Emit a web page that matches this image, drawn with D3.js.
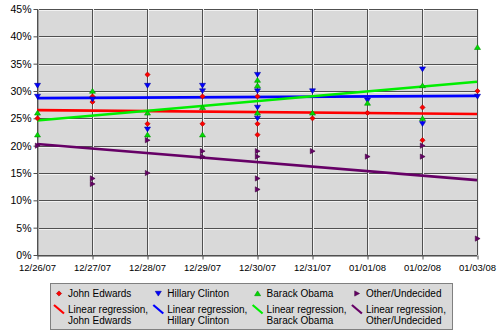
<!DOCTYPE html>
<html>
<head>
<meta charset="utf-8">
<script src="https://cdn.jsdelivr.net/npm/d3@7/dist/d3.min.js"></script>
<style>
  html, body { margin: 0; padding: 0; background: #fff; }
  svg { display: block; font-family: "Liberation Sans", Arial, sans-serif; }
</style>
</head>
<body>
<svg id="chart" width="500" height="335"></svg>
<script>
// Poll dates shown on the x axis
const dates = ["12/26/07", "12/27/07", "12/28/07", "12/29/07", "12/30/07",
               "12/31/07", "01/01/08", "01/02/08", "01/03/08"];

// Individual poll results: [date, percent]
const edwards = [["12/26/07", 25], ["12/27/07", 29], ["12/27/07", 28], ["12/28/07", 33], ["12/28/07", 24],
                 ["12/29/07", 29], ["12/29/07", 24], ["12/30/07", 29], ["12/30/07", 24], ["12/30/07", 22],
                 ["12/31/07", 25], ["01/01/08", 26], ["01/02/08", 27], ["01/02/08", 21], ["01/03/08", 30]];
const clinton = [["12/26/07", 31], ["12/26/07", 29], ["12/27/07", 28.5], ["12/28/07", 31], ["12/28/07", 23],
                 ["12/29/07", 31], ["12/29/07", 30], ["12/30/07", 33], ["12/30/07", 30], ["12/30/07", 27],
                 ["12/30/07", 25], ["12/31/07", 30], ["01/01/08", 28.3], ["01/02/08", 34], ["01/02/08", 24],
                 ["01/03/08", 29]];
const obama   = [["12/26/07", 26], ["12/26/07", 22], ["12/27/07", 30], ["12/28/07", 26], ["12/28/07", 22],
                 ["12/29/07", 27], ["12/29/07", 22], ["12/30/07", 32], ["12/30/07", 31], ["12/30/07", 26],
                 ["12/31/07", 26], ["01/01/08", 27.8], ["01/02/08", 31], ["01/02/08", 25], ["01/03/08", 38]];
const other   = [["12/26/07", 20], ["12/27/07", 14], ["12/27/07", 13], ["12/28/07", 21], ["12/28/07", 15],
                 ["12/29/07", 19], ["12/29/07", 18], ["12/30/07", 19], ["12/30/07", 18], ["12/30/07", 14],
                 ["12/30/07", 12], ["12/31/07", 19], ["01/01/08", 18], ["01/02/08", 20], ["01/02/08", 18],
                 ["01/03/08", 3]];

// Linear regression trend lines: value at first and last date
const edwardsTrend = [["12/26/07", 26.5], ["01/03/08", 25.8]];
const clintonTrend = [["12/26/07", 28.7], ["01/03/08", 29.1]];
const obamaTrend   = [["12/26/07", 24.6], ["01/03/08", 31.7]];
const otherTrend   = [["12/26/07", 20.3], ["01/03/08", 13.7]];

// Y axis ticks (percent)
const yTicks = [0, 5, 10, 15, 20, 25, 30, 35, 40, 45];

const series = [
  { name: "John Edwards",     polls: edwards, trend: edwardsTrend, color: "#ff0000", line: "#ff0000", shape: "diamond" },
  { name: "Hillary Clinton",  polls: clinton, trend: clintonTrend, color: "#0000ff", line: "#0000ff", shape: "down" },
  { name: "Barack Obama",     polls: obama,   trend: obamaTrend,   color: "#00dd00", line: "#00ee00", shape: "up" },
  { name: "Other/Undecided",  polls: other,   trend: otherTrend,   color: "#660066", line: "#660066", shape: "right" }
];

const svg = d3.select("#chart");
const plot = { left: 37, right: 477, top: 9, bottom: 255 };

const parse = d3.timeParse("%m/%d/%y");
const x = d3.scaleTime()
  .domain([parse(dates[0]), parse(dates[dates.length - 1])])
  .range([plot.left, plot.right]);
const y = d3.scaleLinear().domain([0, 45]).range([plot.bottom, plot.top]);

// plot background
svg.append("rect")
  .attr("x", plot.left).attr("y", plot.top)
  .attr("width", plot.right - plot.left).attr("height", plot.bottom - plot.top)
  .attr("fill", "#d9d9d9");

// grid: dark line with a light edge beside it
const grid = svg.append("g");
yTicks.forEach(t => {
  const yy = Math.round(y(t)) + 0.5;
  grid.append("line").attr("x1", plot.left).attr("x2", plot.right)
    .attr("y1", yy + 1).attr("y2", yy + 1).attr("stroke", "#f2f2f2");
  grid.append("line").attr("x1", plot.left).attr("x2", plot.right)
    .attr("y1", yy).attr("y2", yy).attr("stroke", "#505050");
});
dates.forEach(d => {
  const xx = Math.round(x(parse(d))) + 0.5;
  grid.append("line").attr("x1", xx + 1).attr("x2", xx + 1)
    .attr("y1", plot.top).attr("y2", plot.bottom).attr("stroke", "#f2f2f2");
  grid.append("line").attr("x1", xx).attr("x2", xx)
    .attr("y1", plot.top).attr("y2", plot.bottom).attr("stroke", "#505050");
});

// axes
const xAxis = d3.axisBottom(x)
  .tickValues(dates.map(parse))
  .tickFormat(d3.timeFormat("%m/%d/%y"))
  .tickSize(4).tickSizeOuter(0);
const gx = svg.append("g")
  .attr("transform", `translate(0,${plot.bottom + 0.5})`)
  .call(xAxis);
gx.select(".domain").attr("stroke", "#505050");
gx.selectAll(".tick line").attr("stroke", "#505050")
  .attr("transform", "translate(0.5,0)");
gx.selectAll(".tick text").attr("font-size", "9.5px").attr("fill", "#000")
  .attr("font-family", "'Liberation Sans', Arial, sans-serif").attr("dy", "0.9em");

const yAxis = d3.axisLeft(y)
  .tickValues(yTicks)
  .tickFormat(d => d + "%")
  .tickSize(4).tickSizeOuter(0).tickPadding(2);
const gy = svg.append("g")
  .attr("transform", `translate(${plot.left + 0.5},0)`)
  .call(yAxis);
gy.select(".domain").attr("stroke", "#505050");
gy.selectAll(".tick line").attr("stroke", "#505050");
gy.selectAll(".tick text").attr("font-size", "10.5px").attr("fill", "#000")
  .attr("font-family", "'Liberation Sans', Arial, sans-serif");

// marker shapes
function markerPath(shape) {
  switch (shape) {
    case "diamond": return "M0,-2.6L2.6,0L0,2.6L-2.6,0Z";
    case "down":    return "M-3,-2.2L3,-2.2L0,2.6Z";
    case "up":      return "M-3,2.2L3,2.2L0,-2.6Z";
    case "right":   return "M-2.2,-2.6L2.6,0L-2.2,2.6Z";
  }
}

// regression lines
const line = d3.line().x(d => x(parse(d[0]))).y(d => y(d[1]));
series.forEach(s => {
  svg.append("path").attr("d", line(s.trend))
    .attr("fill", "none").attr("stroke", s.line).attr("stroke-width", 2.6);
});

// poll points
series.forEach(s => {
  svg.append("g").selectAll("path").data(s.polls).join("path")
    .attr("d", markerPath(s.shape))
    .attr("transform", d => `translate(${x(parse(d[0])) + 0.5},${y(d[1])})`)
    .attr("fill", s.color)
    .attr("stroke", d3.color(s.color).darker(1.2))
    .attr("stroke-width", 0.6);
});

// legend
const lg = svg.append("g");
lg.append("rect").attr("x", 50.5).attr("y", 283.5).attr("width", 402).attr("height", 46)
  .attr("fill", "#d9d9d9").attr("stroke", "#808080");
series.forEach((s, i) => {
  const cx = 59 + i * 99.3;
  lg.append("path").attr("d", markerPath(s.shape))
    .attr("transform", `translate(${cx},293.5)`)
    .attr("fill", s.color).attr("stroke", d3.color(s.color).darker(1.2)).attr("stroke-width", 0.6);
  lg.append("text").attr("x", cx + 9).attr("y", 297).attr("font-size", "10px").text(s.name);
  lg.append("line").attr("x1", cx - 5).attr("y1", 305).attr("x2", cx + 5).attr("y2", 313.5)
    .attr("stroke", s.line).attr("stroke-width", 2.2);
  lg.append("text").attr("x", cx + 9).attr("y", 313).attr("font-size", "10px").text("Linear regression,");
  lg.append("text").attr("x", cx + 9).attr("y", 324).attr("font-size", "10px").text(s.name);
});
</script>
</body>
</html>
